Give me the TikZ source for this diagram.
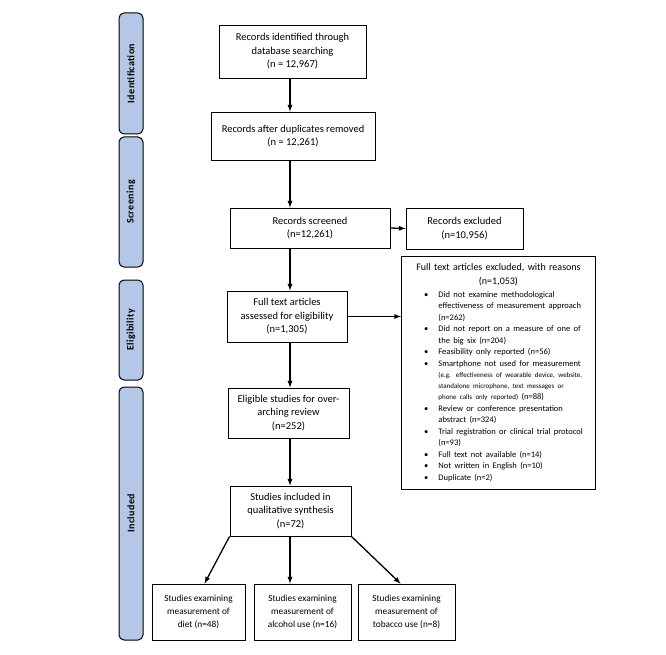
\documentclass[tikz,border=0pt]{standalone}
\usepackage{fontspec}
\setmainfont{Carlito}
\usepackage{enumitem}
\usetikzlibrary{arrows,positioning,calc}
\definecolor{phaseblue}{RGB}{180,199,231}

\begin{document}
\begin{tikzpicture}[x=1pt, y=-1pt,
    box/.style={draw, line width=0.9pt, align=center, inner sep=2pt,
        font=\fontsize{10.5}{13.5}\selectfont},
    smallbox/.style={box, font=\fontsize{9.3}{13}\selectfont},
    phase/.style={draw, line width=1pt, rounded corners=5pt, fill=phaseblue,
        minimum width=24pt, inner sep=0pt,
        font=\bfseries\fontsize{10}{12}\selectfont\addfontfeature{LetterSpace=4}},
    arr/.style={->, >=latex, line width=1.3pt}]

    \useasboundingbox (0,0) rectangle (666,655);

    % ---------------- Phases ----------------
    \foreach \stage/\yc/\bh in {Identification/73.5/121, Screening/202/130,
                                Eligibility/330/100, Included/513.5/253} {
        \node[phase, minimum height=\bh pt] (\stage) at (131,\yc) {\rotatebox{90}{\stage}};
    }

    % ---------------- Main column ----------------
    \node[box, minimum width=147pt, minimum height=53pt] (ident) at (292.5,51.5)
        {Records identified through\\database searching\\(n = 12,967)};
    \node[box, minimum width=164pt, minimum height=48pt] (dup) at (293,136)
        {Records after duplicates removed\\(n = 12,261)};
    \node[box, minimum width=160pt, minimum height=40pt] (scr) at (310,228)
        {Records screened\\(n=12,261)};
    \node[box, minimum width=120pt, minimum height=51pt] (full) at (287,316.5)
        {Full text articles\\assessed for eligibility\\(n=1,305)};
    \node[box, minimum width=121pt, minimum height=50pt] (elig) at (288.5,413)
        {Eligible studies for over-\\arching review\\(n=252)};
    \node[box, minimum width=121pt, minimum height=50pt] (incl) at (290.5,511)
        {Studies included in\\qualitative synthesis\\(n=72)};

    % ---------------- Exclusions ----------------
    \node[box, minimum width=117pt, minimum height=41pt] (excl) at (464.5,228.5)
        {Records excluded\\(n=10,956)};
    \node[draw, line width=0.9pt, text width=186pt, inner sep=4pt,
          minimum height=233pt, anchor=north west] (reasons) at (401,256) {%
        {\centering\fontsize{10}{14}\selectfont
         Full text articles excluded, with reasons\\(n=1,053)\par}
        \vspace{1pt}
        \fontsize{8.5}{11.5}\selectfont
        \begin{itemize}[nosep, leftmargin=33pt, labelsep=10pt, before=\raggedright]
            \item Did not examine methodological\\effectiveness of measurement approach\\(n=262)
            \item Did not report on a measure of one of\\the big six (n=204)
            \item Feasibility only reported (n=56)
            \item Smartphone not used for measurement\\{\fontsize{7}{11}\selectfont
                  (e.g. effectiveness of wearable device, website,\\standalone microphone, text messages or\\phone calls only reported)} (n=88)
            \item Review or conference presentation\\abstract (n=324)
            \item Trial registration or clinical trial protocol\\(n=93)
            \item Full text not available (n=14)
            \item Not written in English (n=10)
            \item Duplicate (n=2)
        \end{itemize}};

    % ---------------- Outcomes ----------------
    \node[smallbox, minimum width=93pt, minimum height=56pt] (diet) at (198.5,612)
        {Studies examining\\measurement of\\diet (n=48)};
    \node[smallbox, minimum width=97pt, minimum height=56pt] (alc) at (302.5,612)
        {Studies examining\\measurement of\\alcohol use (n=16)};
    \node[smallbox, minimum width=97pt, minimum height=56pt] (tob) at (406.5,612)
        {Studies examining\\measurement of\\tobacco use (n=8)};

    % ---------------- Arrows ----------------
    \coordinate (spine) at (290,0);
    \draw[arr] (ident.south -| spine) -- (dup.north -| spine);
    \draw[arr] (dup.south -| spine) -- (scr.north -| spine);
    \draw[arr] (scr.south -| spine) -- (full.north -| spine);
    \draw[arr] (full.south -| spine) -- (elig.north -| spine);
    \draw[arr] (elig.south -| spine) -- (incl.north -| spine);
    \draw[arr] (scr.east) -- (excl.west);
    \draw[arr] (full.east) -- (reasons.west |- full.east);
    \draw[arr] (incl.south west) -- ([xshift=6pt]diet.north);
    \draw[arr] (incl.south -| spine) -- (alc.north -| spine);
    \draw[arr] (incl.south east) -- ([xshift=-6pt]tob.north);

\end{tikzpicture}
\end{document}
